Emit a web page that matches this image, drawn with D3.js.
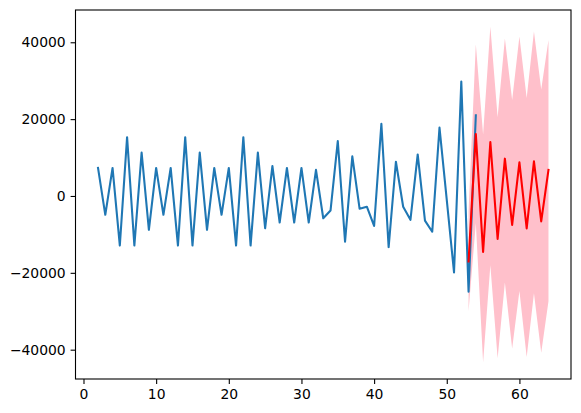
<!DOCTYPE html>
<html>
<head>
<meta charset="utf-8">
<script src="https://cdn.jsdelivr.net/npm/d3@7"></script>
<style>
  html, body { margin: 0; padding: 0; background: #fff; }
  svg { display: block; }
  text { font-family: "DejaVu Sans", sans-serif; }
</style>
</head>
<body>
<svg id="chart" width="581" height="413"></svg>
<script>
// ---- data ----
const actualX = d3.range(2, 55);
const actualValues = [
  7300, -4900, 7300, -12900, 15300, -12900, 11300, -8800,
  7300, -4900, 7300, -12900, 15300, -12900, 11300, -8800,
  7300, -4900, 7300, -12900, 15300, -12900, 11300, -8400,
  7800, -6900, 7300, -6900, 7300, -6900, 6800, -5800,
  -3800, 14300, -11900, 10300, -3300, -2800, -7800, 18800,
  -13300, 8900, -2800, -6200, 10800, -6400, -9300, 17800,
  -1000, -19900, 29800, -24900, 21000
];
const forecastX = d3.range(53, 65);
const forecastValues = [-17030, 16140, -14580, 14060, -11200, 9710, -7550, 8750, -8440, 9010, -6610, 6770];
const upperValues = [-4000, 39500, 16000, 44035, 20500, 41000, 25000, 41500, 25500, 42800, 27700, 40600];
const lowerValues = [-30000, -7000, -43265, -18000, -42200, -22500, -39700, -24700, -41900, -25300, -40800, -27400];
const xTicks = [0, 10, 20, 30, 40, 50, 60];
const yTicks = [-40000, -20000, 0, 20000, 40000];

// ---- layout ----
const M = { left: 75.5, right: 571, top: 10, bottom: 379 };
const svg = d3.select("#chart");

const x = d3.scaleLinear().domain([-1.1, 67.1]).range([M.left, M.right]);
const y = d3.scaleLinear().domain([-47630, 48400]).range([M.bottom, M.top]);

const actual = actualX.map((d, i) => ({ x: d, y: actualValues[i] }));
const forecast = forecastX.map((d, i) => ({ x: d, y: forecastValues[i], lo: lowerValues[i], hi: upperValues[i] }));

// confidence band
svg.append("path")
  .datum(forecast)
  .attr("fill", "pink")
  .attr("d", d3.area().x(d => x(d.x)).y0(d => y(d.lo)).y1(d => y(d.hi)));

// actual series
svg.append("path")
  .datum(actual)
  .attr("fill", "none")
  .attr("stroke", "#1f77b4")
  .attr("stroke-width", 2.08)
  .attr("stroke-linejoin", "round")
  .attr("stroke-linecap", "square")
  .attr("d", d3.line().x(d => x(d.x)).y(d => y(d.y)));

// forecast series
svg.append("path")
  .datum(forecast)
  .attr("fill", "none")
  .attr("stroke", "red")
  .attr("stroke-width", 2.08)
  .attr("stroke-linejoin", "round")
  .attr("stroke-linecap", "square")
  .attr("d", d3.line().x(d => x(d.x)).y(d => y(d.y)));

// axes
const fmt = d3.format("d");
const xAxis = svg.append("g")
  .attr("transform", `translate(0,${M.bottom})`)
  .call(d3.axisBottom(x).tickValues(xTicks).tickFormat(fmt).tickSize(4.9).tickPadding(4.9));
const yAxis = svg.append("g")
  .attr("transform", `translate(${M.left},0)`)
  .call(d3.axisLeft(y).tickValues(yTicks).tickFormat(fmt).tickSize(4.9).tickPadding(4.9));

[xAxis, yAxis].forEach(g => {
  g.select(".domain").remove();
  g.selectAll(".tick line").attr("stroke", "#000").attr("stroke-width", 1.1);
  g.selectAll(".tick text")
    .attr("fill", "#000")
    .style("font-family", "'DejaVu Sans', sans-serif")
    .style("font-size", "13.9px");
});

// frame
svg.append("rect")
  .attr("x", M.left).attr("y", M.top)
  .attr("width", M.right - M.left).attr("height", M.bottom - M.top)
  .attr("fill", "none")
  .attr("stroke", "#000")
  .attr("stroke-width", 1.1);
</script>
</body>
</html>
